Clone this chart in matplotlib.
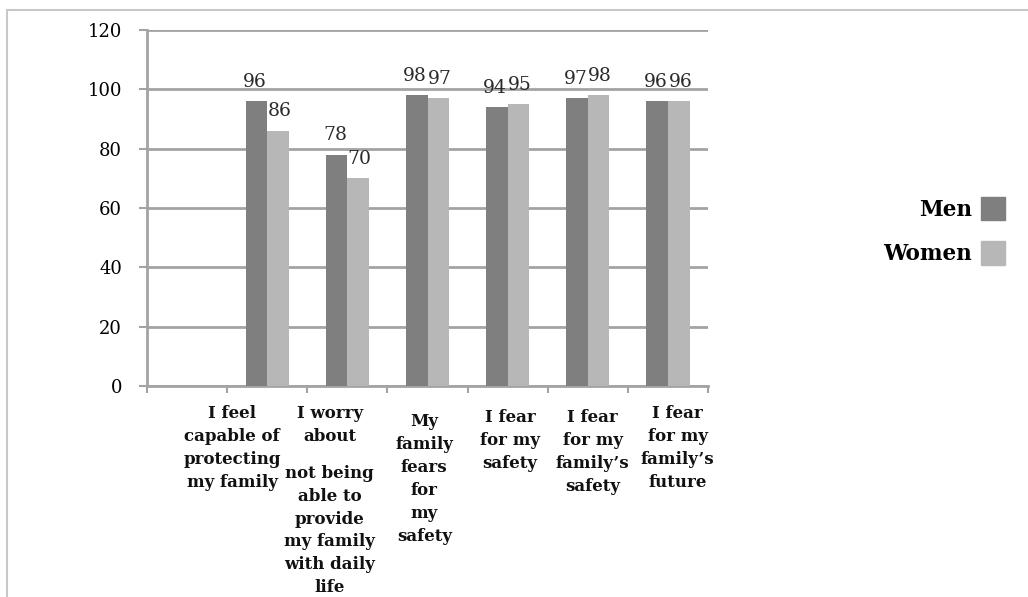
import matplotlib.pyplot as plt
from matplotlib.patches import Rectangle, Patch
import numpy as np

# categories (first slot on the axis is empty in the original chart)
# '|' marks a paragraph break in the wrapped label
categories = ['', 'I feel\ncapable of\nprotecting\nmy family',
              'I worry\nabout|not being\nable to\nprovide\nmy family\nwith daily\nlife',
              'My\nfamily\nfears\nfor\nmy\nsafety',
              'I fear\nfor my\nsafety',
              'I fear\nfor my\nfamily\u2019s\nsafety',
              'I fear\nfor my\nfamily\u2019s\nfuture']
men = [np.nan, 96, 78, 98, 94, 97, 96]
women = [np.nan, 86, 70, 97, 95, 98, 96]
yticks = [0, 20, 40, 60, 80, 100, 120]

men_color = '#7f7f7f'
women_color = '#b7b7b7'
grid_color = '#a3a3a3'
serif = ['DejaVu Serif']

fig = plt.figure(figsize=(10.28, 5.97), dpi=100)
fig.patches.append(Rectangle((7 / 1028, -0.05), 1.05, 1 - 10 / 597 + 0.05,
                             transform=fig.transFigure, fill=False,
                             edgecolor='#c8c8c8', linewidth=1.5))

ax = fig.add_axes([147 / 1028, 1 - 386 / 597, (708 - 147) / 1028, (386 - 30) / 597])
x = np.arange(len(categories))
w = 0.27
ax.bar(x - w / 2, men, w, color=men_color, zorder=3, label='Men')
ax.bar(x + w / 2, women, w, color=women_color, zorder=3, label='Women')

# value labels (they touch each other in the original too)
for i in range(len(categories)):
    if np.isnan(men[i]):
        continue
    ax.text(x[i] - w / 2 - 0.02, men[i] + 3.5, '%d' % men[i], ha='center', va='bottom',
            fontsize=13.5, family=serif, color='#2a2a2a', zorder=4)
    ax.text(x[i] + w / 2 + 0.02, women[i] + 3.5, '%d' % women[i], ha='center', va='bottom',
            fontsize=13.5, family=serif, color='#2a2a2a', zorder=4)

ax.set_xlim(-0.5, len(categories) - 0.5)
ax.set_ylim(0, 120)
ax.set_yticks(yticks)
ax.set_yticklabels([str(v) for v in yticks], family=serif, fontsize=13)
ax.yaxis.grid(True, color=grid_color, linewidth=2, zorder=0)
ax.set_xticks(np.arange(-0.5, len(categories), 1))
ax.set_xticklabels([])
ax.tick_params(axis='y', length=6, color=grid_color, width=1.5, pad=12)
ax.tick_params(axis='x', length=5, color=grid_color, width=1.5)
for s in ['top', 'right']:
    ax.spines[s].set_visible(False)
for s in ['left', 'bottom']:
    ax.spines[s].set_color(grid_color)
    ax.spines[s].set_linewidth(2)

# category labels sit a bit left of the bar pairs, as in the original
label_shift = [0, -0.44, -0.22, -0.04, 0.03, 0.06, 0.12]
label_drop = [0, 0, 0, 2.7, 1.4, 1.4, 0]
for i, lab in enumerate(categories):
    if not lab:
        continue
    y = -6.5 - label_drop[i]
    for block in lab.split('|'):
        ax.text(x[i] + label_shift[i], y, block, ha='center', va='top', fontsize=12,
                fontweight='bold', family=serif, linespacing=1.45, color='#111111')
        y -= 8.4 * (block.count('\n') + 1) + 3.3

handles = [Patch(color=men_color), Patch(color=women_color)]
fig.legend(handles, ['Men', 'Women'], loc='center right', bbox_to_anchor=(1024 / 1028, 1 - 231 / 597),
           frameon=False, markerfirst=False, handlelength=1.1, handleheight=1.3,
           labelspacing=0.95, handletextpad=0.4,
           prop={'family': serif, 'weight': 'bold', 'size': 15.5})

fig.savefig('out.png', dpi=100)
